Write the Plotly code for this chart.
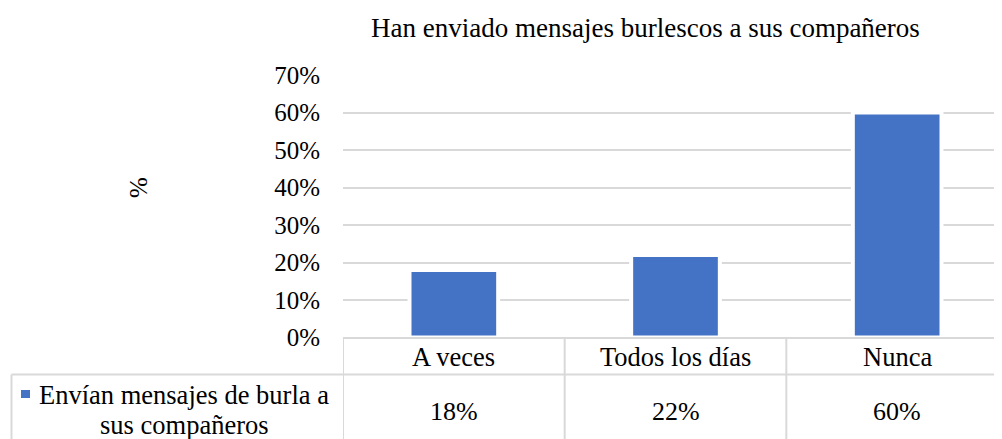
import plotly.graph_objects as go

categories = ["A veces", "Todos los días", "Nunca"]
values = [18, 22, 60]
table_labels = ["18%", "22%", "60%"]
series_name = ["Envían mensajes de burla a", "sus compañeros"]
title_text = "Han enviado mensajes burlescos a sus compañeros"
y_ticks = [0, 10, 20, 30, 40, 50, 60, 70]
y_title = "%"

W, H = 1002, 439
OFF = 8  # page body margin offset
FONT = "Liberation Serif"
GRID = "#D9D9D9"
BLUE = "#4472C4"
FS_TICK = 25
FS_TXT = 26.5
FS_VAL = 26
FS_TITLE = 27

x0_px, x1_px = 343, 1008
y0_px, ytop_px = 337.5, 75
row1_px = 374.5


def py(p):  # reference pixel y -> paper
    return (H - (p - OFF)) / H


def px(p):  # reference pixel x -> paper
    return (p - OFF) / W


fig = go.Figure()
fig.add_trace(go.Bar(
    x=categories, y=values, width=0.4,
    marker=dict(color=BLUE, line=dict(color="white", width=4)),
    showlegend=False, hoverinfo="skip",
))

fig.update_layout(
    template="none",
    width=W, height=H, margin=dict(l=0, r=0, t=0, b=0, pad=0), autosize=False,
    plot_bgcolor="white", paper_bgcolor="white",
    font=dict(family=FONT, color="#000000", size=FS_TXT),
    xaxis=dict(domain=[px(x0_px), px(x1_px)], type="category", range=[-0.5, 2.5], automargin=False,
               showticklabels=False, showgrid=False, zeroline=False, showline=False, ticks=""),
    yaxis=dict(domain=[py(y0_px), py(ytop_px)], range=[0, 70], tickvals=y_ticks, automargin=False,
               ticktext=[f"{v}%" for v in y_ticks], showgrid=True, gridcolor=GRID, gridwidth=1.5,
               zeroline=False, showline=False, ticks="", ticklabelstandoff=22,
               tickfont=dict(size=FS_TICK, family=FONT)),
    showlegend=False,
)

ann = []
ann.append(dict(text=title_text, x=px(645.5), y=py(28), xref="paper", yref="paper",
                showarrow=False, font=dict(size=FS_TITLE, family=FONT), xanchor="center", yanchor="middle"))
ann.append(dict(text=y_title, x=px(138), y=py(188), xref="paper", yref="paper", textangle=-90,
                showarrow=False, font=dict(size=FS_TICK, family=FONT), xanchor="center", yanchor="middle"))
for i, c in enumerate(categories):
    ann.append(dict(text=c, x=c, y=py(357), xref="x", yref="paper", showarrow=False,
                    font=dict(size=FS_TXT, family=FONT), xanchor="center", yanchor="middle"))
    ann.append(dict(text=table_labels[i], x=c, y=py(411), xref="x", yref="paper", showarrow=False,
                    font=dict(size=FS_VAL, family=FONT), xanchor="center", yanchor="middle"))
ann.append(dict(text=series_name[0], x=px(37), y=py(395), xref="paper", yref="paper", showarrow=False,
                font=dict(size=FS_TXT, family=FONT), xanchor="left", yanchor="middle"))
ann.append(dict(text=series_name[1], x=px(184), y=py(425), xref="paper", yref="paper", showarrow=False,
                font=dict(size=FS_TXT, family=FONT), xanchor="center", yanchor="middle"))
fig.update_layout(annotations=ann)

shapes = []
lw = 2
shapes.append(dict(type="line", xref="paper", yref="paper", x0=px(x0_px), x1=1, y0=py(y0_px + 0.5), y1=py(y0_px + 0.5),
                   line=dict(color=GRID, width=lw)))
shapes.append(dict(type="line", xref="paper", yref="paper", x0=px(11.5), x1=1, y0=py(row1_px), y1=py(row1_px),
                   line=dict(color=GRID, width=lw)))
for xv in [-0.5, 0.5, 1.5]:
    shapes.append(dict(type="line", xref="x", yref="paper", x0=xv, x1=xv, y0=py(y0_px), y1=0,
                       line=dict(color=GRID, width=lw)))
shapes.append(dict(type="line", xref="paper", yref="paper", x0=px(11.5), x1=px(11.5), y0=py(row1_px), y1=0,
                   line=dict(color=GRID, width=lw)))
shapes.append(dict(type="rect", xref="paper", yref="paper", x0=px(21), x1=px(30), y0=py(398), y1=py(390),
                   fillcolor=BLUE, line=dict(width=0)))
fig.update_layout(shapes=shapes)

fig.write_html("out.html")
